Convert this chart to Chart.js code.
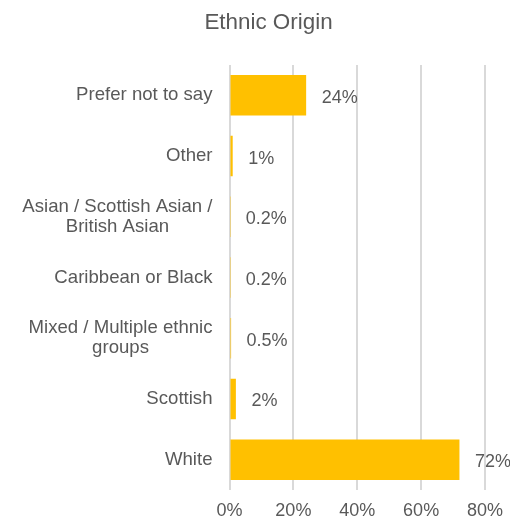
<!DOCTYPE html>
<html>
<head>
<meta charset="utf-8">
<script src="https://cdn.jsdelivr.net/npm/chart.js@4/dist/chart.umd.min.js"></script>
<style>
  html, body { margin: 0; padding: 0; background: #ffffff; }
  #wrap { width: 510px; height: 519px; }
</style>
</head>
<body>
<div id="wrap"><canvas id="c" width="510" height="519"></canvas></div>
<script>
// Ethnic origin of respondents, percentage of total
const categories = [
  'Prefer not to say',
  'Other',
  ['Asian / Scottish Asian /', 'British Asian'],
  'Caribbean or Black',
  ['Mixed / Multiple ethnic', 'groups'],
  'Scottish',
  'White'
];
const percentages = [24, 1, 0.2, 0.2, 0.5, 2, 72];
const tickValues = [0, 20, 40, 60, 80];

const TEXT = '#595959';
const FONT = '"Liberation Sans", Arial, sans-serif';

// Writes each bar's value just past the end of the bar
const valueLabels = {
  id: 'valueLabels',
  afterDatasetsDraw(chart) {
    const ctx = chart.ctx;
    const meta = chart.getDatasetMeta(0);
    ctx.save();
    ctx.fillStyle = TEXT;
    ctx.font = '18px ' + FONT;
    ctx.textAlign = 'left';
    ctx.textBaseline = 'middle';
    meta.data.forEach((bar, i) => {
      ctx.fillText(percentages[i] + '%', bar.x + 15.5, bar.y + 2.5);
    });
    ctx.restore();
  }
};

// Category labels: the block is right-aligned to the axis,
// wrapped lines are centred on each other
const categoryLabels = {
  id: 'categoryLabels',
  afterDraw(chart) {
    const ctx = chart.ctx;
    const yScale = chart.scales.y;
    const right = chart.chartArea.left - 17;
    const lineH = 20;
    ctx.save();
    ctx.fillStyle = TEXT;
    ctx.font = '18.6px ' + FONT;
    ctx.textBaseline = 'middle';
    ctx.textAlign = 'center';
    categories.forEach((label, i) => {
      const lines = Array.isArray(label) ? label : [label];
      const blockW = Math.max(...lines.map(l => ctx.measureText(l).width));
      const cx = right - blockW / 2;
      const cy = yScale.getPixelForValue(i);
      const top = cy - (lines.length - 1) * lineH / 2;
      lines.forEach((l, k) => ctx.fillText(l, cx, top + k * lineH));
    });
    ctx.restore();
  }
};

// Nudges the title so it sits slightly right of the canvas centre
const titleShift = {
  id: 'titleShift',
  afterLayout(chart) {
    if (chart.titleBlock) {
      chart.titleBlock.left += 21;
      chart.titleBlock.right += 21;
    }
  }
};

new Chart(document.getElementById('c'), {
  type: 'bar',
  data: {
    labels: categories,
    datasets: [{
      data: percentages,
      backgroundColor: '#FFC000',
      borderWidth: 0,
      categoryPercentage: 1,
      barPercentage: 0.667
    }]
  },
  plugins: [valueLabels, categoryLabels, titleShift],
  options: {
    indexAxis: 'y',
    responsive: false,
    animation: false,
    layout: { padding: { left: 10, right: 25, top: 0, bottom: 0 } },
    plugins: {
      legend: { display: false },
      tooltip: { enabled: false },
      title: {
        display: true,
        text: 'Ethnic Origin',
        color: TEXT,
        font: { family: FONT, size: 22.4, weight: 'normal', lineHeight: 1.2 },
        padding: { top: 9, bottom: 29.1 }
      }
    },
    scales: {
      x: {
        min: 0,
        max: 80,
        afterBuildTicks(scale) {
          scale.ticks = tickValues.map(v => ({ value: v }));
        },
        afterFit(scale) {
          scale.height = 29;
          scale.paddingLeft = 0;
          scale.paddingRight = 0;
        },
        border: { display: false },
        grid: { color: '#D9D9D9', lineWidth: 2, drawTicks: false },
        ticks: {
          color: TEXT,
          padding: 12.5,
          font: { family: FONT, size: 18, lineHeight: 1 },
          callback: v => v + '%'
        }
      },
      y: {
        afterFit(scale) { scale.width = 219.5; },
        border: { display: false },
        grid: { display: false, drawTicks: false },
        ticks: { display: false }
      }
    }
  }
});
</script>
</body>
</html>
